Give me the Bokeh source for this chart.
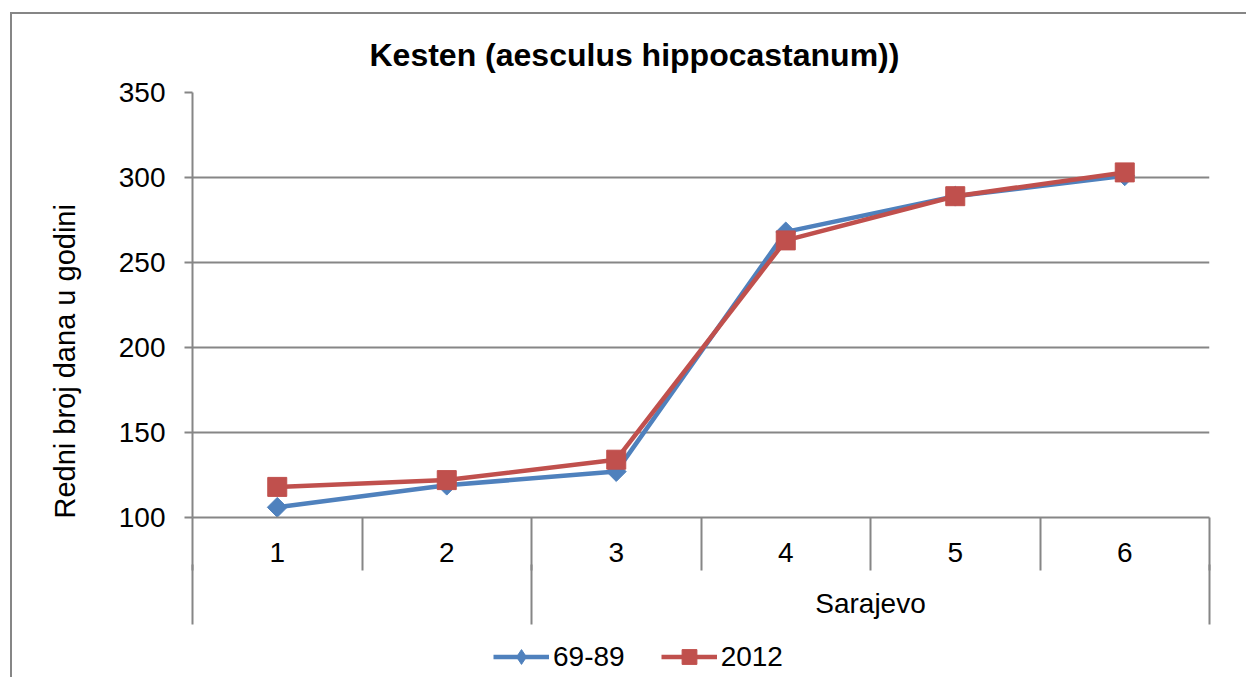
from bokeh.plotting import figure
from bokeh.models import (Range1d, FixedTicker, LinearAxis, Legend, LegendItem, Grid, Title)
from bokeh.layouts import column
from bokeh.embed import file_html
from bokeh.resources import INLINE
import math

# ---- data ----
categories = [1, 2, 3, 4, 5, 6]
category_labels = ["1", "2", "3", "4", "5", "6"]
group_label = "Sarajevo"
series_names = ["69-89", "2012"]
series_6989 = [106, 119, 127, 268, 289, 301]
series_2012 = [118, 122, 134, 263, 289, 303]
y_ticks = [100, 150, 200, 250, 300, 350]
title_text = "Kesten (aesculus hippocastanum))"
y_title = "Redni broj dana u godini"

FONT = "Liberation Sans"
GRAY = "#868686"
BLUE = "#4F81BD"
RED = "#C0504D"

W, H = 1236, 627
ML, MT, FW, FH = 180, 78, 1017, 425

p = figure(width=W, height=H, output_backend="svg", toolbar_location=None,
           x_range=Range1d(0.5, 6.5), y_range=Range1d(100, 350),
           x_axis_type=None, y_axis_type=None,
           min_border_left=ML, min_border_top=MT,
           min_border_right=W - ML - FW, min_border_bottom=H - MT - FH)
p.outline_line_color = None
p.background_fill_color = "white"
p.border_fill_color = "white"

# title
p.title.text = title_text
p.title.text_font = FONT
p.title.text_font_size = "32px"
p.title.text_font_style = "bold"
p.title.align = "left"
p.title.offset = 177
p.title.standoff = 40
p.title.text_color = "black"

# y axis
yax = LinearAxis(ticker=FixedTicker(ticks=y_ticks))
yax.axis_line_color = GRAY
yax.axis_line_width = 2
yax.major_tick_line_color = GRAY
yax.major_tick_line_width = 2
yax.major_tick_out = 8
yax.major_tick_in = 0
yax.minor_tick_line_color = None
yax.major_label_text_font = FONT
yax.major_label_text_font_size = "28px"
yax.major_label_text_color = "black"
yax.major_label_standoff = 19
p.add_layout(yax, "left")

# y axis title
p.add_layout(Title(text=y_title, align="left", offset=-1, standoff=69,
                   text_font=FONT, text_font_size="29px", text_font_style="normal",
                   text_color="black"), "left")

# y grid
grid = Grid(dimension=1, ticker=FixedTicker(ticks=y_ticks))
grid.grid_line_color = GRAY
grid.grid_line_width = 2
p.add_layout(grid)

# x axis level 1 (category numbers)
xax = LinearAxis(ticker=FixedTicker(ticks=categories,
                                    minor_ticks=[c - 0.5 for c in categories] + [categories[-1] + 0.5]))
xax.major_label_overrides = {c: l for c, l in zip(categories, category_labels)}
xax.axis_line_color = GRAY
xax.axis_line_width = 2
xax.major_tick_line_color = None
xax.major_tick_out = 0
xax.major_tick_in = 0
xax.minor_tick_line_color = GRAY
xax.minor_tick_line_width = 2
xax.minor_tick_out = 53
xax.minor_tick_in = 0
xax.major_label_text_font = FONT
xax.major_label_text_font_size = "28px"
xax.major_label_text_color = "black"
xax.major_label_standoff = -28
p.add_layout(xax, "below")

# x axis level 2 (group)
gx = LinearAxis(ticker=FixedTicker(ticks=[4.5], minor_ticks=[0.5, 2.5, 6.5]))
gx.major_label_overrides = {4.5: group_label}
gx.axis_line_color = None
gx.major_tick_line_color = None
gx.major_tick_out = 0
gx.major_tick_in = 0
gx.minor_tick_line_color = GRAY
gx.minor_tick_line_width = 2
gx.minor_tick_out = 60
gx.minor_tick_in = 0
gx.major_label_text_font = FONT
gx.major_label_text_font_size = "28px"
gx.major_label_text_color = "black"
gx.major_label_standoff = -37
p.add_layout(gx, "below")

# series
p.line(categories, series_6989, line_color=BLUE, line_width=4.5)
p.scatter(categories, series_6989, marker="square", angle=math.pi / 4, size=14,
          fill_color=BLUE, line_color=BLUE)
p.line(categories, series_2012, line_color=RED, line_width=4.5)
p.scatter(categories, series_2012, marker="square", size=19,
          fill_color=RED, line_color=RED)

# ---- legend strip (separate figure so it is not clipped by the chart frame) ----
LH = 38
q = figure(width=W, height=LH, output_backend="svg", toolbar_location=None,
           title=None, x_axis_type=None, y_axis_type=None,
           x_range=Range1d(-20, -19), y_range=Range1d(-20, -19), min_border=0)
q.outline_line_color = None
q.grid.visible = False
q.background_fill_color = "white"
q.border_fill_color = "white"
# proxy renderers (same data, drawn outside this strip's ranges) for the legend glyphs
ql1 = q.line(categories, series_6989, line_color=BLUE, line_width=4.5)
qm1 = q.scatter(categories, series_6989, marker="diamond", size=14,
                fill_color=BLUE, line_color=BLUE)
ql2 = q.line(categories, series_2012, line_color=RED, line_width=4.5)
qm2 = q.scatter(categories, series_2012, marker="square", size=19,
                fill_color=RED, line_color=RED)
legend = Legend(items=[LegendItem(label=series_names[0], renderers=[ql1, qm1]),
                       LegendItem(label=series_names[1], renderers=[ql2, qm2])],
                location=(493 - 12 - ML, 4), orientation="horizontal")
legend.label_text_font = FONT
legend.label_text_font_size = "28px"
legend.label_text_color = "black"
legend.glyph_width = 56
legend.glyph_height = 37
legend.label_standoff = 4
legend.spacing = 36
legend.padding = 0
legend.margin = 0
legend.border_line_color = None
legend.background_fill_alpha = 0
q.add_layout(legend)

layout = column(p, q, spacing=0,
                styles={"margin-left": "12px", "margin-top": "14px",
                        "box-shadow": "-2px -2px 0 0 #868686"})

open("out.html", "w").write(file_html(layout, INLINE))
